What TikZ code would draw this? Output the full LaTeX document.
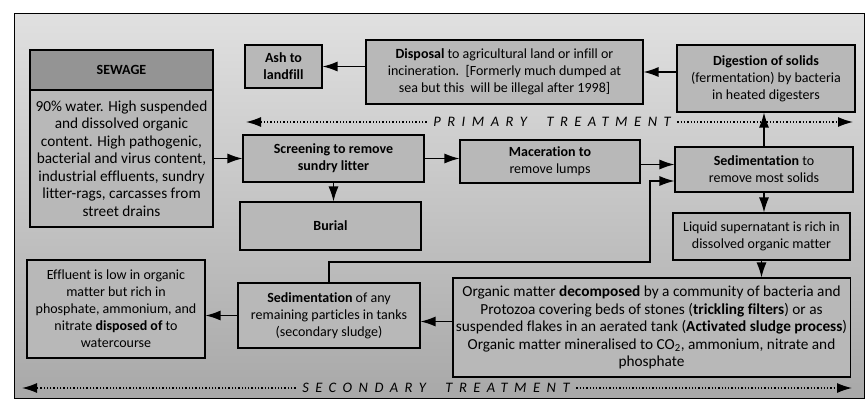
\documentclass[tikz,border=0pt]{standalone}
\usepackage{fontspec}
\setmainfont{Carlito}[Ligatures=NoCommon]
\usetikzlibrary{arrows.meta}

\definecolor{kastengrau}{gray}{0.72}
\definecolor{kopfgrau}{gray}{0.58}
\definecolor{grundhell}{gray}{0.88}
\definecolor{grunddunkel}{gray}{0.66}

\def\kastenschrift{\fontsize{14}{17}\selectfont}
\def\bandschrift{\fontsize{14.5}{15}\selectfont\itshape\addfontfeature{LetterSpace=45}}

% options, name, x1, y1, x2, y2, text
\def\kasten#1#2#3#4#5#6#7{
	\node[box, #1, minimum width={(#5-#3)*1pt}, minimum height={(#6-#4)*1pt}]
		(#2) at ({(#3+#5)/2},{(#4+#6)/2}) {#7};
}

\begin{document}
\begin{tikzpicture}[x=1pt,y=-1pt,>={Latex[length=15pt,width=10pt]},line width=1.2pt,
	box/.style={draw, line width=1.1pt, fill=kastengrau, align=center,
		inner sep=3pt, font=\kastenschrift},
	gross/.style={font=\fontsize{15.3}{17.5}\selectfont},
	band/.style={inner xsep=6pt, inner ysep=2pt, font=\bandschrift},
	punkte/.style={dotted, line width=1.3pt}]

\useasboundingbox (0,0) rectangle (866,410);

\shade[top color=grundhell, bottom color=grunddunkel] (14,13) rectangle (864,398);
\draw[line width=1pt] (14,13) rectangle (864,398);

\kasten{fill=kopfgrau}{kopf}{30}{50}{213}{90}{\textbf{SEWAGE}}
\kasten{gross}{sewage}{30}{90}{213}{227}{90\% water. High suspended\\ and dissolved organic\\ content. High pathogenic,\\ bacterial and virus content,\\ industrial effluents, sundry\\ litter-rags, carcasses from\\ street drains}

\kasten{}{ash}{245}{45}{322}{88}{\textbf{Ash to}\\ \textbf{landfill}}
\kasten{}{disposal}{366}{40}{643}{104}{\textbf{Disposal} to agricultural land or infill or\\ incineration.\ \ [Formerly much dumped at\\ sea but this\ \ will be illegal after 1998]}
\kasten{}{digestion}{677}{45}{855}{112}{\textbf{Digestion of solids}\\ (fermentation) by bacteria\\ in heated digesters}

\kasten{}{screening}{243}{135}{424}{182}{\textbf{Screening to remove}\\ \textbf{sundry litter}}
\kasten{}{maceration}{460}{140}{640}{183}{\textbf{Maceration to}\\ remove lumps}
\kasten{}{sediment}{675}{147}{853}{192}{\textbf{Sedimentation} to\\ remove most solids}
\kasten{}{burial}{240}{202}{421}{250}{\textbf{Burial}}
\kasten{}{liquid}{673}{213}{850}{260}{Liquid supernatant is rich in\\ dissolved organic matter}

\kasten{}{effluent}{27}{260}{205}{358}{Effluent is low in organic\\ matter but rich in\\ phosphate, ammonium, and\\ nitrate \textbf{disposed of} to\\ watercourse}
\kasten{}{secsed}{238}{283}{420}{348}{\textbf{Sedimentation} of any\\ remaining particles in tanks\\ (secondary sludge)}
\kasten{gross}{organic}{455}{278}{848}{377}{Organic matter \textbf{decomposed} by a community of bacteria and\\ Protozoa covering beds of stones (\textbf{trickling filters}) or as\\ suspended flakes in an aerated tank (\textbf{Activated sludge process})\\ Organic matter mineralised to CO\textsubscript{2}, ammonium, nitrate and\\ phosphate}

% primary / secondary treatment
\node[band] (primaer) at (552,122) {PRIMARY\ \ TREATMENT};
\coordinate (pl) at (246,122);
\coordinate (pr) at (853,122);
\draw[punkte,->] (primaer.west) -- (pl);
\draw[punkte,->] (primaer.east) -- (pr);

\node[band] (sekundaer) at (436,388) {SECONDARY\ \ TREATMENT};
\coordinate (sl) at (22,388);
\coordinate (sr) at (852,388);
\draw[punkte,->] (sekundaer.west) -- (sl);
\draw[punkte,->] (sekundaer.east) -- (sr);

% flow
\draw[->] (sewage.east) -- (sewage.east -| screening.west);
\draw[->] (screening.east) -- (screening.east -| maceration.west);
\draw[->] ([yshift=-3pt]maceration.east) -- ([yshift=-3pt]maceration.east -| sediment.west);
\draw[->] (screening.south) -- (screening.south |- burial.north);
\draw[->] (sediment.north) -- (sediment.north |- digestion.south);
\draw[->] (disposal.east -| digestion.west) -- (disposal.east);
\draw[->] (ash.east -| disposal.west) -- (ash.east);
\draw[->] (sediment.south) -- (sediment.south |- liquid.north);
\draw[->] (liquid.south) -- (liquid.south |- organic.north);

\coordinate (knick) at (650,262);
\draw[->] (secsed.north) |- (knick) |- ([yshift=-11.5pt]sediment.west);

\coordinate (se2) at ([yshift=-6pt]secsed.east);
\draw[->] (organic.west |- se2) -- (se2);
\draw[->] (secsed.west) -- (secsed.west -| effluent.east);

\end{tikzpicture}
\end{document}
